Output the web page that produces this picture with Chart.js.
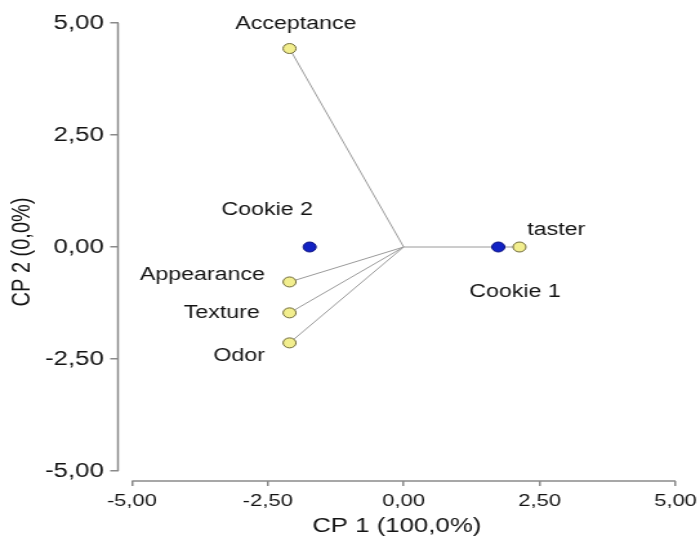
<!DOCTYPE html>
<html>
<head>
<meta charset="utf-8">
<script src="https://cdn.jsdelivr.net/npm/chart.js"></script>
<style>
  html, body { margin: 0; padding: 0; background: #fff; }
</style>
</head>
<body>
<!-- drawn at 543 wide and stretched to 700, like the source picture -->
<canvas id="biplot" width="543" height="536" style="width:700px;height:536px"></canvas>
<script>
const variables = ['Acceptance', 'Appearance', 'Texture', 'Odor', 'taster'];
const varX = [-2.10, -2.10, -2.10, -2.10, 2.13];
const varY = [4.43, -0.78, -1.47, -2.14, 0];

const samples = ['Cookie 1', 'Cookie 2'];
const sampleX = [1.74, -1.73];
const sampleY = [0, 0];

const xTicks = [-5, -2.5, 0, 2.5, 5];
const yTicks = [-5, -2.5, 0, 2.5, 5];

const FONT = '"Liberation Sans", Arial, sans-serif';

/* ---------- label placement (canvas px, relative to the point) ---------- */
const labelPlace = {
  'Acceptance': { dx: 5, dy: -25, align: 'center' },
  'Appearance': { dx: -19, dy: -7, align: 'right' },
  'Texture':    { dx: -23, dy: 0, align: 'right' },
  'Odor':       { dx: -39, dy: 13, align: 'center' },
  'taster':     { dx: 6, dy: -17, align: 'left' },
  'Cookie 1':   { dx: 13, dy: 45, align: 'center' },
  'Cookie 2':   { dx: -33, dy: -37, align: 'center' }
};

const fmt = v => Number(v).toFixed(2).replace('.', ',');

const pointLabels = {
  id: 'pointLabels',
  afterDatasetsDraw(chart) {
    const ctx = chart.ctx;
    ctx.save();
    ctx.font = '18px ' + FONT;
    ctx.fillStyle = '#141414';
    ctx.textBaseline = 'middle';
    chart.data.datasets.forEach((ds, i) => {
      if (!ds.names) return;
      chart.getDatasetMeta(i).data.forEach((el, j) => {
        const p = labelPlace[ds.names[j]];
        ctx.textAlign = p.align;
        ctx.fillText(ds.names[j], el.x + p.dx, el.y + p.dy);
      });
    });
    ctx.restore();
  }
};

// axis lines only span -5..5, detached from each other
const axisLines = {
  id: 'axisLines',
  afterDraw(chart) {
    const { ctx, chartArea, scales } = chart;
    ctx.save();
    ctx.strokeStyle = '#8a8a8a';
    ctx.lineWidth = 1.5;
    ctx.beginPath();
    ctx.moveTo(scales.x.getPixelForValue(xTicks[0]), chartArea.bottom);
    ctx.lineTo(scales.x.getPixelForValue(xTicks[xTicks.length - 1]), chartArea.bottom);
    ctx.moveTo(chartArea.left, scales.y.getPixelForValue(yTicks[0]));
    ctx.lineTo(chartArea.left, scales.y.getPixelForValue(yTicks[yTicks.length - 1]));
    ctx.stroke();
    ctx.restore();
  }
};

const vectorSets = variables.map((name, i) => ({
  type: 'line',
  data: [{ x: 0, y: 0 }, { x: varX[i], y: varY[i] }],
  borderColor: '#9a9a9a',
  borderWidth: 1,
  pointRadius: 0,
  order: 3
}));

new Chart(document.getElementById('biplot'), {
  type: 'scatter',
  data: {
    datasets: [
      {
        names: samples,
        data: samples.map((s, i) => ({ x: sampleX[i], y: sampleY[i] })),
        backgroundColor: '#1222c4',
        borderColor: '#0a0f80',
        borderWidth: 1,
        pointRadius: 5,
        order: 1
      },
      {
        names: variables,
        data: variables.map((v, i) => ({ x: varX[i], y: varY[i] })),
        backgroundColor: '#f2ee8e',
        borderColor: '#6f6a3a',
        borderWidth: 1,
        pointRadius: 5,
        order: 2
      },
      ...vectorSets
    ]
  },
  options: {
    responsive: false,
    devicePixelRatio: 1,
    animation: false,
    layout: { padding: { top: 23, right: 19, bottom: 0, left: 0 } },
    plugins: {
      legend: { display: false },
      tooltip: { enabled: false }
    },
    scales: {
      x: {
        type: 'linear',
        min: -5.256,
        max: 5,
        afterBuildTicks: s => { s.ticks = xTicks.map(v => ({ value: v })); },
        afterFit: s => { s.height = 55; s.paddingLeft = 0; s.paddingRight = 0; },
        border: { display: false },
        grid: { drawOnChartArea: false, drawTicks: true, tickLength: 5, color: '#8a8a8a', lineWidth: 1.5 },
        ticks: {
          callback: fmt,
          color: '#141414',
          font: { family: FONT, size: 17 },
          padding: 5,
          maxRotation: 0,
          autoSkip: false
        },
        title: {
          display: true,
          text: 'CP 1 (100,0%)',
          color: '#141414',
          font: { family: FONT, size: 20 },
          padding: { top: 0, bottom: -2 }
        }
      },
      y: {
        type: 'linear',
        min: -5.223,
        max: 5,
        afterBuildTicks: s => { s.ticks = yTicks.map(v => ({ value: v })); },
        afterFit: s => { s.width = 91.5; },
        border: { display: false },
        grid: { drawOnChartArea: false, drawTicks: true, tickLength: 6, color: '#8a8a8a', lineWidth: 1.5 },
        ticks: {
          callback: fmt,
          color: '#141414',
          font: { family: FONT, size: 20 },
          padding: 5,
          autoSkip: false
        },
        title: {
          display: true,
          text: 'CP 2 (0,0%)',
          color: '#141414',
          font: { family: FONT, size: 20 },
          padding: { top: 5, bottom: 0 }
        }
      }
    }
  },
  plugins: [pointLabels, axisLines]
});
</script>
</body>
</html>
